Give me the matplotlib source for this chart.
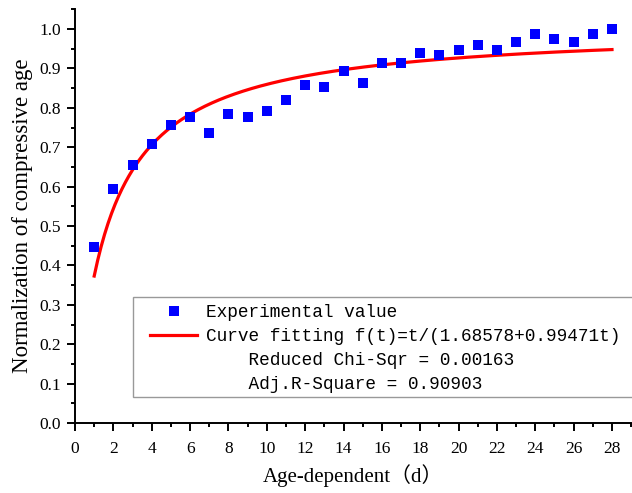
import numpy as np
import matplotlib
matplotlib.use("Agg")
import matplotlib.pyplot as plt
from matplotlib.lines import Line2D
from matplotlib.patches import Rectangle
from matplotlib.ticker import MultipleLocator

# ─── DATA ─────────────────────────────────────────────────────
age_days = np.arange(1, 29)
norm_strength = [0.446, 0.595, 0.655, 0.709, 0.757, 0.777, 0.736, 0.784,
                 0.777, 0.792, 0.819, 0.859, 0.852, 0.893, 0.863, 0.913,
                 0.913, 0.940, 0.933, 0.947, 0.960, 0.947, 0.967, 0.987,
                 0.974, 0.967, 0.987, 1.000]

# hyperbolic fit f(t) = t / (a + b t)
FIT_A = 1.68578
FIT_B = 0.99471
CHI_SQR = 0.00163
ADJ_R2 = 0.90903
# ──────────────────────────────────────────────────────────────

W, H = 632, 493
SERIF = ["Liberation Serif", "Noto Sans CJK SC"]
MONO = ["Liberation Mono", "Noto Sans CJK SC"]

fig = plt.figure(figsize=(W / 100, H / 100), dpi=100)
ax = fig.add_axes([0.1187, 0.142, 0.880, 0.839])

t = np.linspace(1, 28, 300)
fit = t / (FIT_A + FIT_B * t)

ax.plot(age_days, norm_strength, "s", color="#0000ff", markersize=7,
        markeredgewidth=0, zorder=3)
ax.plot(t, fit, color="#ff0000", linewidth=2.3, zorder=2)

ax.set_xlim(0, 29)
ax.set_ylim(0, 1.05)
ax.xaxis.set_minor_locator(MultipleLocator(1))
ax.yaxis.set_minor_locator(MultipleLocator(0.05))
ax.set_xticks(np.arange(0, 29, 2))
yt = np.arange(0, 1.01, 0.1)
ax.set_yticks(yt)
ax.set_yticklabels([f"{v:.1f}" for v in yt])

for side in ("top", "right"):
    ax.spines[side].set_visible(False)
for side in ("left", "bottom"):
    ax.spines[side].set_linewidth(1.4)

ax.tick_params(which="major", direction="out", length=6, width=1.4,
               labelsize=12.5, pad=4)
ax.tick_params(axis="x", which="major", pad=7)
ax.tick_params(which="minor", direction="out", length=3, width=1.4)
for lbl in ax.get_xticklabels() + ax.get_yticklabels():
    lbl.set_family(SERIF)

ax.set_xlabel("Age-dependent（d）", family=SERIF, fontsize=15, labelpad=5)
ax.set_ylabel("Normalization of compressive age", family=SERIF,
              fontsize=16.5, labelpad=5)

# legend box (runs off the right edge of the figure)
box = Rectangle((133 / W, 1 - 397 / H), 520 / W, 100 / H,
                transform=fig.transFigure, facecolor="white",
                edgecolor="#999999", linewidth=1.0, zorder=5)
fig.patches.append(box)

# legend with the fit statistics as extra rows
handles = [
    Line2D([], [], marker="s", linestyle="none", color="#0000ff",
           markersize=7, markeredgewidth=0),
    Line2D([], [], color="#ff0000", linewidth=2.3),
    Line2D([], [], color="none"),
    Line2D([], [], color="none"),
]
labels = [
    "Experimental value",
    f"Curve fitting f(t)=t/({FIT_A}+{FIT_B}t)",
    f"    Reduced Chi-Sqr = {CHI_SQR}",
    f"    Adj.R-Square = {ADJ_R2}",
]
leg = fig.legend(handles, labels, loc="upper left",
                 bbox_to_anchor=(150 / W, 1 - 304 / H),
                 bbox_transform=fig.transFigure, borderaxespad=0,
                 prop={"family": MONO, "size": 12.8}, frameon=False,
                 handlelength=2.65, handletextpad=0.5, labelspacing=0.4,
                 borderpad=0)
leg.set_zorder(6)

fig.savefig("out.png", dpi=100)
